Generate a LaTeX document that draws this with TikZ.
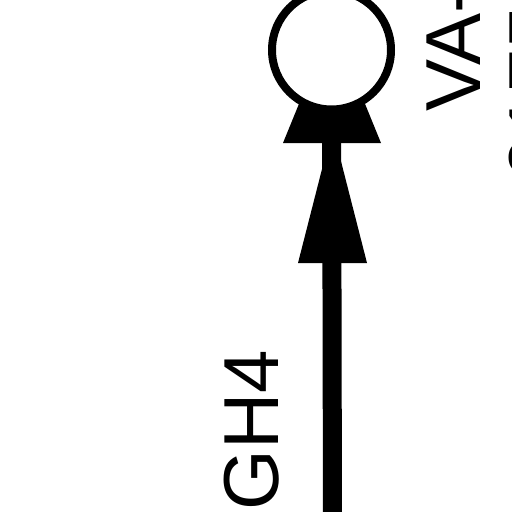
\documentclass[tikz,border=0pt]{standalone}
\usepackage{fontspec}
\setmainfont{Liberation Sans}
\tikzset{every picture/.style={line width=0.75pt}}
\tikzset{tag/.style={rotate=90, anchor=base west, inner sep=0pt, font=\fontsize{78}{90}\selectfont}}

\begin{document}
\begin{tikzpicture}[x=1pt,y=1pt,yscale=-1,xscale=1]
\path[use as bounding box] (0,0) rectangle (512,512);
\clip (0,0) rectangle (512,512);

\coordinate (lineend) at (332.5,530);
\coordinate (gaugec) at (331.5,50);

%Shapes: lower arrow head
\fill (332.5,128) -- (298,263) -- (367,263) -- cycle;
%Shapes: upper arrow head
\fill (332,23) -- (283,143) -- (381,143) -- cycle;

%Straight Lines
\draw [line width=19pt] (lineend) -- (gaugec);

%Shape: Circle
\node [circle, draw, fill=white, line width=8pt, minimum size=119pt, inner sep=0pt] (gauge) at (gaugec) {};

% Text Node
\node [tag] (gh) at (278,510.7) {GH4};
% Text Node
\node [tag] (va) at (480,112) {VA-};
% Text Node
\node [tag] (vb) at (563,180) {0175};

\end{tikzpicture}
\end{document}
